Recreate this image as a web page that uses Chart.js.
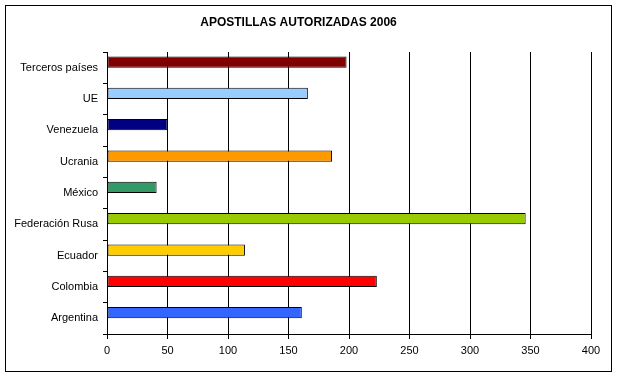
<!DOCTYPE html>
<html>
<head>
<meta charset="utf-8">
<script src="https://cdn.jsdelivr.net/npm/chart.js@4"></script>
<style>
  html, body { margin: 0; padding: 0; background: #fff; }
  #wrap { width: 617px; height: 378px; }
</style>
</head>
<body>
<div id="wrap"><canvas id="chart-apostillas" width="617" height="378"></canvas></div>
<script>
"use strict";

const categories = ["Terceros países", "UE", "Venezuela", "Ucrania", "México",
    "Federación Rusa", "Ecuador", "Colombia", "Argentina"];
const apostillas = [198, 166, 50, 186, 41, 346, 114, 223, 161];
// the original sheet had a second, empty series, which pushes each bar up in its slot
const empty_series = [null, null, null, null, null, null, null, null, null];
const bar_colors = ["#800000", "#99CCFF", "#000080", "#FF9900", "#339966",
    "#99CC00", "#FFCC00", "#FF0000", "#3366FF"];
const x_ticks = [0, 50, 100, 150, 200, 250, 300, 350, 400];

// white background plus the outer frame
const frame_plugin = {
    id: "frame",
    beforeDraw(chart) {
        const ctx = chart.ctx;
        ctx.save();
        ctx.fillStyle = "#fff";
        ctx.fillRect(0, 0, chart.width, chart.height);
        ctx.strokeStyle = "#000";
        ctx.lineWidth = 1;
        ctx.strokeRect(5.5, 5.5, 606, 366);
        ctx.restore();
    }
};

Chart.defaults.font.family = "'Liberation Sans', Arial, sans-serif";
Chart.defaults.color = "#000";

new Chart(document.getElementById("chart-apostillas"), {
    type: "bar",
    data: {
        labels: categories,
        datasets: [
            {
                data: apostillas,
                backgroundColor: bar_colors,
                borderColor: "#000",
                borderWidth: 1,
                borderSkipped: false,
                categoryPercentage: 0.72,
                barPercentage: 1,
            },
            {
                data: empty_series,
                categoryPercentage: 0.72,
                barPercentage: 1,
            }
        ]
    },
    options: {
        indexAxis: "y",
        responsive: false,
        animation: false,
        layout: { padding: { left: 6, right: 26, top: 0, bottom: 0 } },
        plugins: {
            legend: { display: false },
            tooltip: { enabled: false },
            title: {
                display: true,
                text: "APOSTILLAS AUTORIZADAS 2006",
                font: { size: 12, weight: "bold" },
                padding: { top: 15, bottom: 22.6 },
            }
        },
        scales: {
            x: {
                min: 0,
                max: 400,
                afterBuildTicks: axis => { axis.ticks = x_ticks.map(v => ({ value: v })); },
                afterFit: axis => { axis.height = 44; },
                grid: {
                    color: "#000",
                    lineWidth: 1,
                    tickLength: 5,
                    drawOnChartArea: true,
                },
                border: { color: "#000", width: 1 },
                ticks: { font: { size: 11 }, padding: 5, maxRotation: 0 },
            },
            y: {
                afterFit: axis => { axis.width = 101; },
                grid: {
                    offset: true,
                    color: "#000",
                    drawOnChartArea: false,
                    tickLength: 4,
                },
                border: { color: "#000", width: 1 },
                ticks: { font: { size: 11 }, padding: 5 },
            }
        }
    },
    plugins: [frame_plugin]
});
</script>
</body>
</html>
